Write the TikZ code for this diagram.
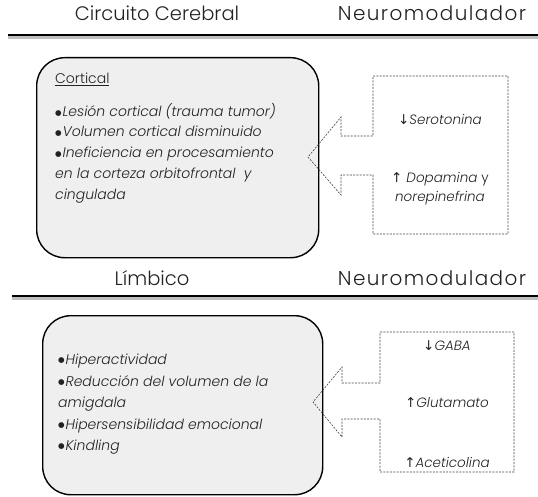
\documentclass[tikz,border=0pt]{standalone}
\usepackage{fontspec}
\setmainfont{Poppins}[UprightFont=* Light, ItalicFont=* Light Italic]
\newfontfamily\arr{DejaVu Sans}
\definecolor{panelgray}{HTML}{EEEFEE}
\definecolor{txt}{HTML}{222222}
\newcommand{\bul}{\raisebox{1.3pt}{\arr\upshape\fontsize{7.5}{9}\selectfont ●}\kern0.8pt}
\begin{document}
\begin{tikzpicture}[x=1pt,y=-1pt,
  hdr/.style={font=\fontsize{19.5}{22}\selectfont, anchor=base, inner sep=0, text=txt},
  hdrwide/.style={hdr, font=\addfontfeatures{LetterSpace=7}\fontsize{20}{22}\selectfont},
  body/.style={font=\fontsize{14}{17}\selectfont\itshape, anchor=base west, inner sep=0, text=txt},
  nm/.style={font=\fontsize{13.5}{15}\selectfont\itshape, anchor=base, inner sep=0, text=txt},
  panel/.style={draw, line width=1.4pt, rounded corners=28pt, fill=panelgray, anchor=north west, inner sep=0},
  callout/.style={draw=black!75, dash pattern=on 2pt off 1.3pt, line width=0.6pt},
  rulemain/.style={line width=1.6pt, black},
  ruleshadow/.style={line width=2.5pt, black!25}]
\useasboundingbox (0,0) rectangle (538,497);

% headers
\node[hdr] (h1) at (157,21) {Circuito Cerebral};
\node[hdrwide] (h2) at (432,21) {Neuromodulador};
\coordinate (r1a) at (8,35); \coordinate (r1b) at (538,35);
\coordinate (r1c) at (8,37.5); \coordinate (r1d) at (538,37.5);
\draw[ruleshadow] (r1c) -- (r1d);
\draw[rulemain] (r1a) -- (r1b);

% cortical panel
\node[panel, minimum width=282pt, minimum height=200pt] (cort) at (36,57) {};
\node[body, font=\fontsize{14}{17}\selectfont] (c0) at (55,84) {\underline{Cortical}};
\node[body] (c1) at (55,117) {\bul Lesión cortical (trauma tumor)};
\node[body] (c2) at (55,137) {\bul Volumen cortical disminuido};
\node[body] (c3) at (55,158) {\bul Ineficiencia en procesamiento};
\node[body] (c4) at (55,179) {en la corteza orbitofrontal \ y};
\node[body] (c5) at (55,200) {cingulada};

% callout 1
\coordinate (t1) at (308,157);
\draw[callout] (373,76) -- (508,76) -- (508,234) -- (373,234) -- (373,175) -- (341,175) -- (341,195) -- (t1) -- (341,117) -- (341,136) -- (373,136) -- cycle;
\node[nm] (n1) at (440,125) {{\arr\upshape ↓}Serotonina};
\node[nm] (n2) at (440,183) {{\arr\upshape ↑} Dopamina {\upshape y}};
\node[nm] (n3) at (440,202) {norepinefrina};

% second headers
\node[hdr] (h3) at (152,285) {Límbico};
\node[hdrwide] (h4) at (432,285) {Neuromodulador};
\coordinate (r2a) at (12,296); \coordinate (r2b) at (538,296);
\coordinate (r2c) at (12,298.5); \coordinate (r2d) at (538,298.5);
\draw[ruleshadow] (r2c) -- (r2d);
\draw[rulemain] (r2a) -- (r2b);

% limbic panel
\node[panel, minimum width=280pt, minimum height=179pt] (limb) at (42,315) {};
\node[body] (l1) at (58,364) {\bul Hiperactividad};
\node[body] (l2) at (58,386) {\bul Reducción del volumen de la};
\node[body] (l3) at (58,407) {amigdala};
\node[body] (l4) at (58,429) {\bul Hipersensibilidad emocional};
\node[body] (l5) at (58,450) {\bul Kindling};

% callout 2
\coordinate (t2) at (313,402);
\draw[callout] (380,332) -- (514,332) -- (514,472) -- (380,472) -- (380,419) -- (342,419) -- (342,437) -- (t2) -- (342,367) -- (342,383) -- (380,383) -- cycle;
\node[nm] (m1) at (447,350) {{\arr\upshape ↓}GABA};
\node[nm] (m2) at (447,407) {{\arr\upshape ↑}Glutamato};
\node[nm] (m3) at (447,467) {{\arr\upshape ↑}Aceticolina};
\end{tikzpicture}
\end{document}
